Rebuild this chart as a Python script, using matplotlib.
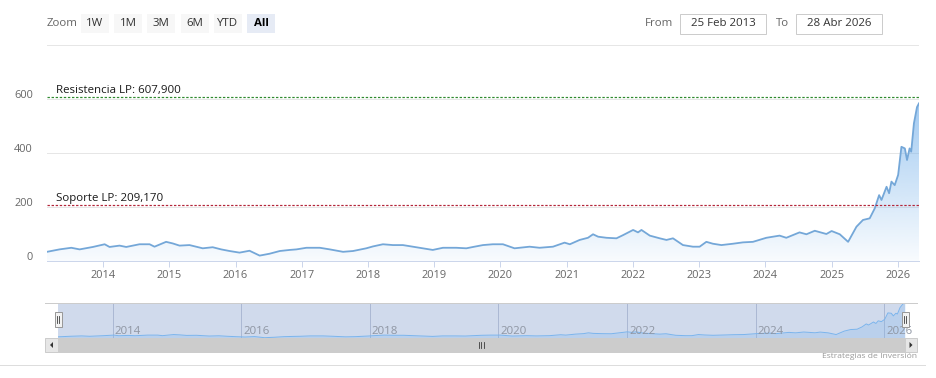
import numpy as np
import pandas as pd
import matplotlib
matplotlib.use('Agg')
import matplotlib.pyplot as plt
import matplotlib.dates as mdates
from matplotlib import transforms
from matplotlib.colors import to_rgb
from matplotlib.lines import Line2D
from matplotlib.patches import Rectangle, Polygon

plt.rcParams['font.family'] = ['Open Sans', 'DejaVu Sans']

# price series
dates = [
    '2013-02-25', '2013-05-05', '2013-07-09', '2013-08-24', '2013-11-05',
    '2014-01-09', '2014-02-05', '2014-04-01', '2014-05-08', '2014-07-20',
    '2014-09-14', '2014-10-11', '2014-12-14', '2015-01-20', '2015-02-26',
    '2015-04-22', '2015-07-04', '2015-08-28', '2015-10-14', '2015-11-29',
    '2016-01-23', '2016-03-18', '2016-05-13', '2016-07-07', '2016-09-01',
    '2016-10-26', '2016-12-02', '2017-01-26', '2017-04-10', '2017-06-04',
    '2017-08-16', '2017-10-10', '2017-12-22', '2018-01-28', '2018-03-24',
    '2018-05-18', '2018-07-12', '2018-09-05', '2018-10-30', '2018-12-24',
    '2019-02-18', '2019-05-03', '2019-06-27', '2019-08-03', '2019-09-27',
    '2019-11-20', '2020-01-15', '2020-03-19', '2020-06-10', '2020-08-04',
    '2020-10-17', '2020-12-20', '2021-01-18', '2021-03-13', '2021-04-28',
    '2021-05-26', '2021-06-23', '2021-08-08', '2021-10-02', '2021-11-08',
    '2022-01-02', '2022-01-29', '2022-02-17', '2022-04-04', '2022-05-29',
    '2022-07-05', '2022-08-10', '2022-10-04', '2022-11-28', '2023-01-04',
    '2023-02-10', '2023-03-18', '2023-05-04', '2023-07-07', '2023-08-31',
    '2023-10-25', '2024-01-07', '2024-03-20', '2024-04-26', '2024-07-08',
    '2024-08-15', '2024-09-30', '2024-12-03', '2025-01-01', '2025-02-15',
    '2025-04-02', '2025-05-18', '2025-06-23', '2025-07-30', '2025-08-27',
    '2025-09-20', '2025-10-03', '2025-10-31', '2025-11-14', '2025-11-27',
    '2025-12-15', '2026-01-03', '2026-01-21', '2026-02-09', '2026-02-21',
    '2026-03-07', '2026-03-16', '2026-03-31', '2026-04-17', '2026-04-28',
]
values = [
    34, 43, 49, 43, 52,
    62, 52, 57, 52, 62,
    62, 53, 71, 65, 57,
    59, 47, 51, 43, 37,
    31, 38, 20, 27, 37,
    41, 43, 49, 49, 43,
    34, 37, 47, 54, 62,
    59, 59, 53, 47, 41,
    49, 49, 47, 52, 59,
    62, 62, 47, 53, 49,
    53, 68, 62, 78, 86,
    99, 90, 86, 84, 96,
    115, 106, 115, 94, 84,
    78, 84, 59, 53, 53,
    71, 64, 59, 64, 69,
    71, 86, 94, 86, 106,
    99, 112, 100, 111, 99,
    71, 127, 152, 158, 195,
    244, 226, 275, 251, 294,
    281, 319, 423, 417, 374,
    417, 405, 510, 570, 584,
]

y_ticks = [0, 200, 400, 600, 800]
y_labels = ['0', '200', '400', '600', '']
x_years = list(range(2014, 2027))
nav_years = list(range(2014, 2027, 2))

resistance = 607.900
support = 209.170
resistance_label = 'Resistencia LP: 607,900'
support_label = 'Soporte LP: 209,170'

zoom_buttons = ['1W', '1M', '3M', '6M', 'YTD', 'All']
selected_button = 'All'
date_from = '25 Feb 2013'
date_to = '28 Abr 2026'
credit = 'Estrategias de Inversión'

line_color = '#74a7d8'
fill_color = '#7cb5ec'
label_grey = '#666666'

W, H = 936, 378
PT = 0.72  # points per pixel at dpi 100

fig = plt.figure(figsize=(W / 100, H / 100), dpi=100)


def fx(x):
    return x / W


def fy(y):
    return 1 - y / H


def px_rect(x0, y0, x1, y1):
    return [fx(x0), fy(y1), (x1 - x0) / W, (y1 - y0) / H]


def box(x0, y0, x1, y1, fc, ec='none', lw=1.0, z=2):
    fig.add_artist(Rectangle((fx(x0), fy(y1)), (x1 - x0) / W, (y1 - y0) / H,
                             transform=fig.transFigure, facecolor=fc,
                             edgecolor=ec, linewidth=lw * PT, zorder=z))


def px_off(dx, dy):
    return transforms.ScaledTranslation(dx / 100, dy / 100, fig.dpi_scale_trans)


d = pd.to_datetime(dates)
xs = mdates.date2num(d)

# ---------------- main chart ----------------
ax = fig.add_axes(px_rect(47, 45, 919, 261))

for v in y_ticks:
    ax.axhline(v, color='#e6e6e6', lw=PT, zorder=0)

grad = np.zeros((256, 1, 4))
grad[..., :3] = to_rgb(fill_color)
grad[:, 0, 3] = np.linspace(0.95, 0.05, 256)
im = ax.imshow(grad, extent=[xs[0], xs[-1], 0, y_ticks[-1]], aspect='auto',
               origin='upper', zorder=1, interpolation='bilinear')
verts = np.column_stack([np.r_[xs, xs[::-1]], np.r_[values, np.zeros(len(xs))]])
area = Polygon(verts, closed=True, transform=ax.transData,
               facecolor='none', edgecolor='none')
ax.add_patch(area)
im.set_clip_path(area)

ax.plot(d, values, color=line_color, lw=1.8 * PT, zorder=3)

ax.set_xlim(d[0], d[-1])
ax.set_ylim(y_ticks[0], y_ticks[-1])

# support / resistance lines
ax.axhline(resistance, color='#2f8a2f', lw=1.2 * PT, ls=(0, (2, 1.4)), zorder=4)
ax.axhline(support, color='#b3263a', lw=1.2 * PT, ls=(0, (2, 1.4)), zorder=4)
lab_tr = transforms.blended_transform_factory(ax.transAxes, ax.transData)
for lvl, txt in [(resistance, resistance_label), (support, support_label)]:
    ax.text(0, lvl, txt, transform=lab_tr + px_off(9, 4), ha='left',
            va='baseline', fontsize=11.5 * PT, color='#1a1a1a', zorder=5)

# y labels (sit just above their gridline)
for v, s in zip(y_ticks, y_labels):
    ax.text(0, v, s, transform=lab_tr + px_off(-14, 1.5), ha='right',
            va='baseline', fontsize=11 * PT, color=label_grey)
ax.set_yticks([])

ax.set_xticks([pd.Timestamp(f'{y}-01-01') for y in x_years])
ax.set_xticklabels([str(y) for y in x_years])
ax.tick_params(axis='x', length=6 * PT, width=PT, color='#ccd6eb',
               labelcolor=label_grey, labelsize=11 * PT, pad=3 * PT)
for side in ['left', 'right', 'top']:
    ax.spines[side].set_visible(False)
ax.spines['bottom'].set_color('#ccd6eb')
ax.spines['bottom'].set_linewidth(PT)
ax.spines['bottom'].set_zorder(6)

# ---------------- navigator ----------------
nav = fig.add_axes(px_rect(58, 303, 905, 338))
nav.set_xlim(d[0], d[-1])
nav.set_ylim(min(values) - 5, max(values))
for y in nav_years:
    nav.axvline(pd.Timestamp(f'{y}-01-01'), color='#c9cfdb', lw=PT, zorder=0)
nav.add_patch(Rectangle((0, 0), 1, 1, transform=nav.transAxes,
                        facecolor=(102 / 255, 133 / 255, 194 / 255, 0.3),
                        edgecolor='none', zorder=1))
nav.fill_between(d, values, min(values) - 5, color=fill_color, alpha=0.25,
                 lw=0, zorder=2)
nav.plot(d, values, color='#7cb5ec', lw=PT, zorder=3)
nav_tr = transforms.blended_transform_factory(nav.transData, nav.transAxes)
for y in nav_years:
    nav.text(pd.Timestamp(f'{y}-01-01'), 0.18, str(y),
             transform=nav_tr + px_off(2, 0), ha='left', va='center',
             fontsize=11.5 * PT, color='#8f96a3', zorder=4)
nav.set_xticks([])
nav.set_yticks([])
for s in nav.spines.values():
    s.set_visible(False)

fig.add_artist(Line2D([fx(45), fx(917)], [fy(303), fy(303)],
                      transform=fig.transFigure, color='#cccccc', lw=PT))

# handles
for hx in [58, 905]:
    box(hx - 3.5, 312, hx + 3.5, 327, '#f2f2f2', '#999999')
    for lx in [hx - 1, hx + 1]:
        fig.add_artist(Line2D([fx(lx), fx(lx)], [fy(316), fy(323)],
                              transform=fig.transFigure, color='#333333',
                              lw=0.8 * PT, zorder=3))

# scrollbar
box(58, 338, 905, 352, '#cccccc', '#cccccc')
box(45, 338, 58, 352, '#e6e6e6', '#cccccc')
box(905, 338, 917, 352, '#e6e6e6', '#cccccc')
fig.add_artist(Polygon([[fx(50), fy(345)], [fx(53), fy(342)], [fx(53), fy(348)]],
                       closed=True, transform=fig.transFigure,
                       facecolor='#333333', edgecolor='none', zorder=3))
fig.add_artist(Polygon([[fx(912.5), fy(345)], [fx(909.5), fy(342)], [fx(909.5), fy(348)]],
                       closed=True, transform=fig.transFigure,
                       facecolor='#333333', edgecolor='none', zorder=3))
for rx in [479.5, 481.5, 483.5]:
    fig.add_artist(Line2D([fx(rx), fx(rx)], [fy(342), fy(348)],
                          transform=fig.transFigure, color='#333333',
                          lw=0.8 * PT, zorder=3))

fig.text(fx(917), fy(357), credit, ha='right', va='center',
         fontsize=8.5 * PT, color='#999999')
fig.add_artist(Line2D([0, fx(925)], [fy(365), fy(365)],
                      transform=fig.transFigure, color='#dddddd', lw=PT))

# ---------------- range selector / inputs ----------------
fig.text(fx(47), fy(23), 'Zoom', ha='left', va='center',
         fontsize=11.5 * PT, color=label_grey)
for i, b in enumerate(zoom_buttons):
    x0 = 81 + i * 33.2
    sel = b == selected_button
    box(x0, 14, x0 + 28, 33, '#e6ebf5' if sel else '#f7f7f7')
    fig.text(fx(x0 + 14), fy(23.5), b, ha='center', va='center',
             fontsize=11.5 * PT, color='#000000' if sel else '#333333',
             fontweight='bold' if sel else 'normal', zorder=3)

fig.text(fx(673), fy(23), 'From', ha='right', va='center',
         fontsize=11.5 * PT, color=label_grey)
box(680, 14, 766, 34, 'white', '#cccccc')
fig.text(fx(723), fy(23.5), date_from, ha='center', va='center',
         fontsize=11.5 * PT, color='#333333', zorder=3)
fig.text(fx(789), fy(23), 'To', ha='right', va='center',
         fontsize=11.5 * PT, color=label_grey)
box(796, 14, 882, 34, 'white', '#cccccc')
fig.text(fx(839), fy(23.5), date_to, ha='center', va='center',
         fontsize=11.5 * PT, color='#333333', zorder=3)

fig.savefig('out.png', dpi=100)
